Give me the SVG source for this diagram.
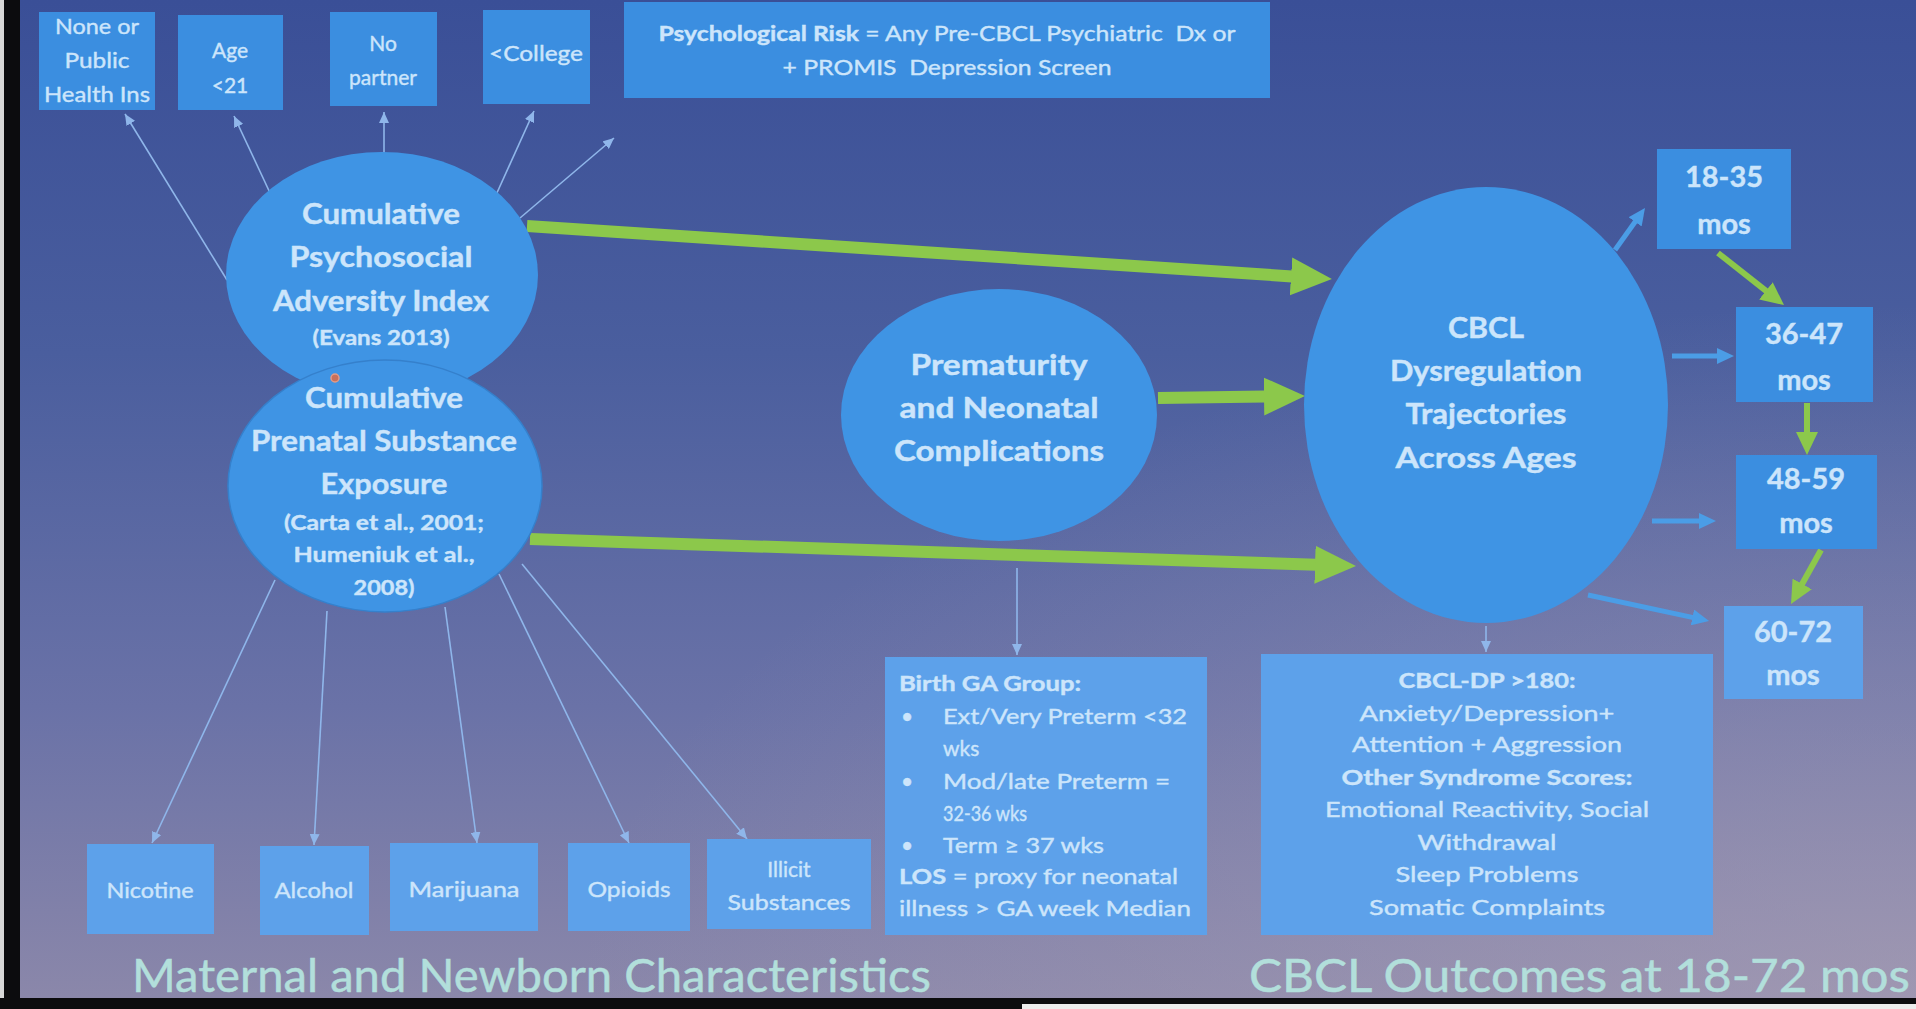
<svg xmlns="http://www.w3.org/2000/svg" width="1916" height="1009" viewBox="0 0 1916 1009">
<defs>
<linearGradient id="bg" x1="0" y1="0" x2="0" y2="1">
<stop offset="0" stop-color="#3a4f97"/>
<stop offset="0.35" stop-color="#4a5e9e"/>
<stop offset="0.7" stop-color="#6a72a7"/>
<stop offset="1" stop-color="#8c88aa"/>
</linearGradient>
<radialGradient id="glow" cx="1" cy="1" r="0.7">
<stop offset="0" stop-color="#b0a5b8" stop-opacity="0.55"/>
<stop offset="1" stop-color="#b0a5b8" stop-opacity="0"/>
</radialGradient>
<marker id="thin" markerUnits="userSpaceOnUse" markerWidth="12" markerHeight="10" refX="11" refY="5" orient="auto">
<path d="M0,0 L11,5 L0,10 z" fill="#8fb6ea"/>
</marker>
<marker id="gbig" markerUnits="userSpaceOnUse" markerWidth="42" markerHeight="40" refX="1" refY="20" orient="auto">
<path d="M0,1 L41,20 L0,39 z" fill="#8cc84b"/>
</marker>
<marker id="gsm" markerUnits="userSpaceOnUse" markerWidth="24" markerHeight="22" refX="1" refY="11" orient="auto">
<path d="M0,0 L23,11 L0,22 z" fill="#8cc84b"/>
</marker>
<marker id="bsm" markerUnits="userSpaceOnUse" markerWidth="18" markerHeight="16" refX="1" refY="8" orient="auto">
<path d="M0,0 L17,8 L0,16 z" fill="#4b9de6"/>
</marker>
<style>
.box{fill:#3b8ee0}
.boxl{fill:#5da1ea}
.ell{fill:#3f94e4}
.t{font-family:"Lato","Open Sans","Liberation Sans",sans-serif;fill:#cce5fb;stroke:#cce5fb;stroke-width:0.4;text-anchor:middle}
.b{font-weight:bold}
.s20{font-size:21px}
.s21{font-size:21px}
.s28{font-size:28px;font-weight:bold}
.s22{font-size:21px;font-weight:bold}
.s29{font-size:29px;font-weight:bold}
.l{text-anchor:start}
.thin{stroke:#8fb6ea;stroke-width:1.6;fill:none;marker-end:url(#thin)}
.gbig{stroke:#8cc84b;stroke-width:12;fill:none;marker-end:url(#gbig)}
.gsm{stroke:#8cc84b;stroke-width:6;fill:none;marker-end:url(#gsm)}
.bsm{stroke:#4b9de6;stroke-width:5;fill:none;marker-end:url(#bsm)}
.title{font-family:"Lato","Open Sans","Liberation Sans",sans-serif;font-size:46px;fill:#b2dfdb;stroke:#b2dfdb;stroke-width:0.5}
</style>
</defs>

<rect x="0" y="0" width="1916" height="1009" fill="url(#bg)"/>
<rect x="0" y="0" width="1916" height="1009" fill="url(#glow)"/>
<rect x="0" y="0" width="4" height="1009" fill="#d8d8d8"/>
<rect x="4" y="0" width="16" height="1009" fill="#0c0c0e"/>
<rect x="0" y="998" width="1916" height="11" fill="#0c0c0e"/>
<rect x="1022" y="1004" width="894" height="5" fill="#ececec"/>

<g id="connectors">
<line class="thin" x1="227" y1="280" x2="125" y2="114"/>
<line class="thin" x1="271" y1="195" x2="234" y2="116"/>
<line class="thin" x1="384" y1="154" x2="384" y2="112"/>
<line class="thin" x1="496" y1="195" x2="534" y2="111"/>
<line class="thin" x1="520" y1="218" x2="614" y2="138"/>
<line class="thin" x1="275" y1="580" x2="152" y2="843"/>
<line class="thin" x1="327" y1="611" x2="314" y2="845"/>
<line class="thin" x1="445" y1="607" x2="477" y2="843"/>
<line class="thin" x1="499" y1="574" x2="629" y2="843"/>
<line class="thin" x1="522" y1="564" x2="747" y2="839"/>
<line class="thin" x1="1017" y1="568" x2="1017" y2="655"/>
<line class="thin" x1="1486" y1="626" x2="1486" y2="652"/>
<line class="gbig" x1="527" y1="226" x2="1292" y2="276.4"/>
<line class="gbig" x1="1158" y1="398" x2="1265" y2="396.5"/>
<line class="gbig" x1="530" y1="539" x2="1316" y2="564.7"/>
<line class="gsm" x1="1718" y1="253" x2="1766.7" y2="291.4"/>
<line class="gsm" x1="1807" y1="403" x2="1807" y2="433"/>
<line class="gsm" x1="1821" y1="550" x2="1801.7" y2="584.8"/>
<line class="bsm" x1="1615" y1="250" x2="1635.7" y2="221"/>
<line class="bsm" x1="1672" y1="356" x2="1718" y2="356"/>
<line class="bsm" x1="1652" y1="521" x2="1700" y2="521"/>
<line class="bsm" x1="1588" y1="595" x2="1693.4" y2="617.6"/>
</g>

<g id="node-insurance">
<rect class="box" x="39" y="12" width="116" height="98"/>
<text class="t s20" x="97" y="34" textLength="84" lengthAdjust="spacingAndGlyphs">None or</text>
<text class="t s20" x="97" y="68" textLength="65" lengthAdjust="spacingAndGlyphs">Public</text>
<text class="t s20" x="97" y="102" textLength="106" lengthAdjust="spacingAndGlyphs">Health Ins</text>
</g>
<g id="node-age">
<rect class="box" x="178" y="15" width="105" height="95"/>
<text class="t s20" x="230" y="58">Age</text>
<text class="t s20" x="230" y="93">&lt;21</text>
</g>
<g id="node-partner">
<rect class="box" x="330" y="12" width="107" height="94"/>
<text class="t s20" x="383" y="51">No</text>
<text class="t s20" x="383" y="85">partner</text>
</g>
<g id="node-college">
<rect class="box" x="483" y="10" width="107" height="94"/>
<text class="t s20" x="536" y="61" textLength="94" lengthAdjust="spacingAndGlyphs">&lt;College</text>
</g>
<g id="node-psychrisk">
<rect class="box" x="624" y="2" width="646" height="96"/>
<text class="t s21" x="947" y="41" textLength="577" lengthAdjust="spacingAndGlyphs" xml:space="preserve"><tspan class="b">Psychological Risk</tspan> = Any Pre-CBCL Psychiatric  Dx or</text>
<text class="t s21" x="947" y="75" textLength="329" lengthAdjust="spacingAndGlyphs" xml:space="preserve">+ PROMIS  Depression Screen</text>
</g>

<g id="node-psychosocial">
<ellipse class="ell" cx="382" cy="275" rx="156" ry="123"/>
<text class="t s28" x="381" y="224" textLength="158" lengthAdjust="spacingAndGlyphs">Cumulative</text>
<text class="t s28" x="381" y="267" textLength="183" lengthAdjust="spacingAndGlyphs">Psychosocial</text>
<text class="t s28" x="381" y="311" textLength="216" lengthAdjust="spacingAndGlyphs">Adversity Index</text>
<text class="t s22" x="381" y="345" textLength="137" lengthAdjust="spacingAndGlyphs">(Evans 2013)</text>
</g>
<g id="node-substance">
<ellipse class="ell" cx="385" cy="486" rx="157" ry="126" stroke="#3580cc" stroke-width="1.5"/>
<text class="t s28" x="384" y="408" textLength="158" lengthAdjust="spacingAndGlyphs">Cumulative</text>
<text class="t s28" x="384" y="451" textLength="266" lengthAdjust="spacingAndGlyphs">Prenatal Substance</text>
<text class="t s28" x="384" y="494" textLength="127" lengthAdjust="spacingAndGlyphs">Exposure</text>
<text class="t s22" x="384" y="530" textLength="200" lengthAdjust="spacingAndGlyphs">(Carta et al., 2001;</text>
<text class="t s22" x="384" y="562" textLength="181" lengthAdjust="spacingAndGlyphs">Humeniuk et al.,</text>
<text class="t s22" x="384" y="595" textLength="61" lengthAdjust="spacingAndGlyphs">2008)</text>
<circle cx="335" cy="378" r="4" fill="#c9705a" stroke="#e39a86" stroke-width="1.5"/>
</g>
<g id="node-prematurity">
<ellipse class="ell" cx="999" cy="415" rx="158" ry="126"/>
<text class="t s28" x="999" y="375" textLength="177" lengthAdjust="spacingAndGlyphs">Prematurity</text>
<text class="t s28" x="999" y="418" textLength="199" lengthAdjust="spacingAndGlyphs">and Neonatal</text>
<text class="t s28" x="999" y="461" textLength="210" lengthAdjust="spacingAndGlyphs">Complications</text>
</g>
<g id="node-cbcl">
<ellipse class="ell" cx="1486" cy="405" rx="182" ry="218"/>
<text class="t s28" x="1486" y="338" textLength="76" lengthAdjust="spacingAndGlyphs">CBCL</text>
<text class="t s28" x="1486" y="381" textLength="192" lengthAdjust="spacingAndGlyphs">Dysregulation</text>
<text class="t s28" x="1486" y="424" textLength="161" lengthAdjust="spacingAndGlyphs">Trajectories</text>
<text class="t s28" x="1486" y="468" textLength="181" lengthAdjust="spacingAndGlyphs">Across Ages</text>
</g>

<g id="node-18-35">
<rect class="box" x="1657" y="149" width="134" height="100"/>
<text class="t s29" x="1724" y="187">18-35</text>
<text class="t s29" x="1724" y="234">mos</text>
</g>
<g id="node-36-47">
<rect class="box" x="1736" y="307" width="137" height="95"/>
<text class="t s29" x="1804" y="344">36-47</text>
<text class="t s29" x="1804" y="390">mos</text>
</g>
<g id="node-48-59">
<rect class="box" x="1736" y="455" width="141" height="94"/>
<text class="t s29" x="1806" y="489">48-59</text>
<text class="t s29" x="1806" y="533">mos</text>
</g>
<g id="node-60-72">
<rect class="boxl" x="1724" y="606" width="139" height="93"/>
<text class="t s29" x="1793" y="642">60-72</text>
<text class="t s29" x="1793" y="685">mos</text>
</g>

<g id="node-nicotine">
<rect class="boxl" x="87" y="844" width="127" height="90"/>
<text class="t s21" x="150" y="898" textLength="87" lengthAdjust="spacingAndGlyphs">Nicotine</text>
</g>
<g id="node-alcohol">
<rect class="boxl" x="260" y="846" width="109" height="89"/>
<text class="t s21" x="314" y="898" textLength="79" lengthAdjust="spacingAndGlyphs">Alcohol</text>
</g>
<g id="node-marijuana">
<rect class="boxl" x="390" y="843" width="148" height="88"/>
<text class="t s21" x="464" y="897" textLength="111" lengthAdjust="spacingAndGlyphs">Marijuana</text>
</g>
<g id="node-opioids">
<rect class="boxl" x="568" y="843" width="122" height="88"/>
<text class="t s21" x="629" y="897" textLength="83" lengthAdjust="spacingAndGlyphs">Opioids</text>
</g>
<g id="node-illicit">
<rect class="boxl" x="707" y="839" width="164" height="90"/>
<text class="t s21" x="789" y="877">Illicit</text>
<text class="t s21" x="789" y="910" textLength="123" lengthAdjust="spacingAndGlyphs">Substances</text>
</g>

<g id="node-birthga">
<rect class="boxl" x="885" y="657" width="322" height="278"/>
<text class="t s21 l b" x="899" y="691" textLength="182" lengthAdjust="spacingAndGlyphs">Birth GA Group:</text>
<text class="t s21 l" x="901" y="724">•</text>
<text class="t s21 l" x="943" y="724" textLength="244" lengthAdjust="spacingAndGlyphs">Ext/Very Preterm &lt;32</text>
<text class="t s21 l" x="943" y="756">wks</text>
<text class="t s21 l" x="901" y="789">•</text>
<text class="t s21 l" x="943" y="789" textLength="227" lengthAdjust="spacingAndGlyphs">Mod/late Preterm =</text>
<text class="t s21 l" x="943" y="821" textLength="84" lengthAdjust="spacingAndGlyphs">32-36 wks</text>
<text class="t s21 l" x="901" y="853">•</text>
<text class="t s21 l" x="943" y="853" textLength="161" lengthAdjust="spacingAndGlyphs">Term ≥ 37 wks</text>
<text class="t s21 l" x="899" y="884" textLength="279" lengthAdjust="spacingAndGlyphs"><tspan class="b">LOS</tspan> = proxy for neonatal</text>
<text class="t s21 l" x="899" y="916" textLength="292" lengthAdjust="spacingAndGlyphs">illness &gt; GA week Median</text>
</g>
<g id="node-cbcldp">
<rect class="boxl" x="1261" y="654" width="452" height="281"/>
<text class="t s21 b" x="1487" y="688" textLength="177" lengthAdjust="spacingAndGlyphs">CBCL-DP &gt;180:</text>
<text class="t s21" x="1487" y="721" textLength="255" lengthAdjust="spacingAndGlyphs">Anxiety/Depression+</text>
<text class="t s21" x="1487" y="752" textLength="270" lengthAdjust="spacingAndGlyphs">Attention + Aggression</text>
<text class="t s21 b" x="1487" y="785" textLength="291" lengthAdjust="spacingAndGlyphs">Other Syndrome Scores:</text>
<text class="t s21" x="1487" y="817" textLength="324" lengthAdjust="spacingAndGlyphs">Emotional Reactivity, Social</text>
<text class="t s21" x="1487" y="850" textLength="139" lengthAdjust="spacingAndGlyphs">Withdrawal</text>
<text class="t s21" x="1487" y="882" textLength="183" lengthAdjust="spacingAndGlyphs">Sleep Problems</text>
<text class="t s21" x="1487" y="915" textLength="236" lengthAdjust="spacingAndGlyphs">Somatic Complaints</text>
</g>

<g id="titles">
<text class="title" x="132" y="992" textLength="799" lengthAdjust="spacingAndGlyphs">Maternal and Newborn Characteristics</text>
<text class="title" x="1249" y="992" textLength="661" lengthAdjust="spacingAndGlyphs">CBCL Outcomes at 18-72 mos</text>
</g>
</svg>
